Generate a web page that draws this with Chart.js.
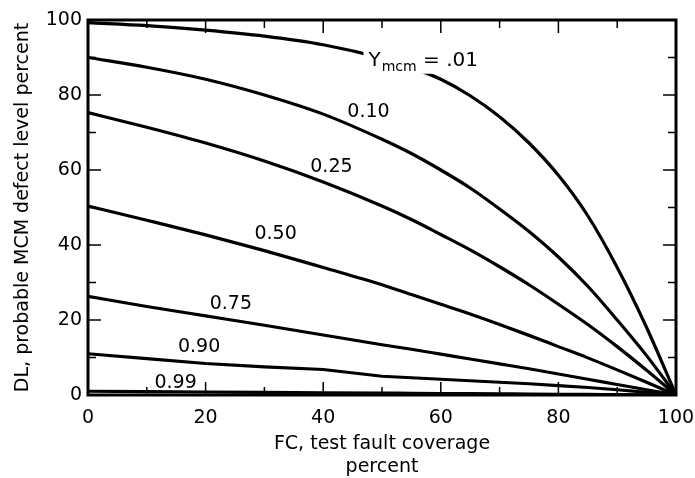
<!DOCTYPE html>
<html>
<head>
<meta charset="utf-8">
<script src="https://cdn.jsdelivr.net/npm/chart.js@4/dist/chart.umd.min.js"></script>
<style>
    html, body { margin: 0; padding: 0; background: #fff; }
    #wrap { width: 695px; height: 478px; }
</style>
</head>
<body>
<div id="wrap"><canvas id="chartLine"></canvas></div>
<script>
// FC, test fault coverage (percent)
const coverage = [0, 10, 20, 30, 40, 50, 55, 60, 65, 70, 75, 80, 85, 90, 95, 100];

// DL, probable MCM defect level (percent), one list per MCM yield
const dlY001 = [99.3, 98.5, 97.3, 95.7, 93.4, 89.8, 87.3, 84.2, 79.8, 74.2, 67.2, 58.6, 47.8, 34, 18, 0];
const dlY010 = [90, 87.4, 84.2, 80, 74.9, 68.2, 64.4, 60, 55.2, 49.6, 43.6, 36.8, 29, 20, 10.5, 0];
const dlY025 = [75.3, 71.4, 67.2, 62.4, 56.8, 50.4, 46.8, 42.8, 38.7, 34.2, 29.4, 24.2, 18.8, 12.9, 6.6, 0];
const dlY050 = [50.4, 46.6, 42.7, 38.5, 34, 29.4, 26.8, 24.2, 21.6, 18.8, 15.9, 12.9, 9.9, 6.7, 3.4, 0];
const dlY075 = [26.3, 23.6, 21.1, 18.6, 16, 13.4, 12.2, 10.9, 9.6, 8.3, 7, 5.6, 4.2, 2.8, 1.4, 0];
const dlY090 = [11, 9.7, 8.4, 7.5, 6.8, 5, 4.6, 4.2, 3.8, 3.4, 3, 2.5, 2, 1.4, 0.7, 0];
const dlY099 = [1, 0.9, 0.8, 0.7, 0.6, 0.5, 0.45, 0.4, 0.35, 0.3, 0.25, 0.2, 0.15, 0.1, 0.05, 0];

const yields = [".01", "0.10", "0.25", "0.50", "0.75", "0.90", "0.99"];
const seriesList = [dlY001, dlY010, dlY025, dlY050, dlY075, dlY090, dlY099];

// curve labels, placed in data units (FC, DL)
const curveLabels = [
    { text: "0.10", x: 47.7, y: 75.5 },
    { text: "0.25", x: 41.4, y: 60.9 },
    { text: "0.50", x: 31.9, y: 42.9 },
    { text: "0.75", x: 24.3, y: 24.3 },
    { text: "0.90", x: 18.9, y: 12.7 },
    { text: "0.99", x: 14.9, y: 3.1 },
];
const yieldLabelPos = { x: 47.7, y: 87.8 };

const FONT = "'DejaVu Sans', sans-serif";

const frameAndLabels = {
    id: "frameAndLabels",
    afterDatasetsDraw(chart) {
        const { ctx, chartArea: a, scales } = chart;
        const xs = scales.x, ys = scales.y;
        ctx.save();
        ctx.strokeStyle = "#000";
        ctx.lineCap = "butt";

        // inward ticks on all four sides
        ctx.lineWidth = 1.5;
        for (let v = 10; v < 100; v += 10) {
            const len = v % 20 === 0 ? 13 : 8;
            const px = xs.getPixelForValue(v);
            const py = ys.getPixelForValue(v);
            ctx.beginPath();
            ctx.moveTo(px, a.bottom); ctx.lineTo(px, a.bottom - len);
            ctx.moveTo(px, a.top); ctx.lineTo(px, a.top + len);
            ctx.moveTo(a.left, py); ctx.lineTo(a.left + len, py);
            ctx.moveTo(a.right, py); ctx.lineTo(a.right - len, py);
            ctx.stroke();
        }

        // frame
        ctx.lineWidth = 3;
        ctx.strokeRect(a.left, a.top, a.right - a.left, a.bottom - a.top);

        // curve labels
        ctx.fillStyle = "#000";
        ctx.font = "19px " + FONT;
        ctx.textAlign = "center";
        ctx.textBaseline = "middle";
        curveLabels.forEach((l) => {
            ctx.fillText(l.text, xs.getPixelForValue(l.x), ys.getPixelForValue(l.y));
        });

        // Y_mcm = .01, on a white patch that breaks the curve
        let x = xs.getPixelForValue(yieldLabelPos.x);
        const base = ys.getPixelForValue(yieldLabelPos.y);
        ctx.font = "20px " + FONT;
        const wY = ctx.measureText("Y").width;
        const wEq = ctx.measureText(" = " + yields[0]).width;
        ctx.font = "14px " + FONT;
        const wSub = ctx.measureText("mcm").width;
        ctx.fillStyle = "#fff";
        ctx.fillRect(x - 5, base - 17, wY + wSub + wEq + 8, 25);

        ctx.fillStyle = "#000";
        ctx.textAlign = "left";
        ctx.textBaseline = "alphabetic";
        ctx.font = "20px " + FONT;
        ctx.fillText("Y", x, base);
        x += wY + 1;
        ctx.font = "14px " + FONT;
        ctx.fillText("mcm", x, base + 5);
        x += wSub;
        ctx.font = "20px " + FONT;
        ctx.fillText(" = " + yields[0], x, base);
        ctx.restore();
    },
};

const datasets = seriesList.map((values, i) => ({
    label: "Ymcm = " + yields[i],
    data: coverage.map((fc, j) => ({ x: fc, y: values[j] })),
    borderColor: "#000",
    borderWidth: 3.2,
    pointRadius: 0,
    fill: false,
    tension: yields[i] === "0.90" ? 0 : 0.4,
    cubicInterpolationMode: yields[i] === "0.90" ? "default" : "monotone",
}));

const configLineChart = {
    type: "line",
    data: { datasets },
    options: {
        responsive: true,
        maintainAspectRatio: false,
        animation: false,
        layout: { padding: { top: 20, right: 19, left: 0, bottom: 0 } },
        plugins: {
            legend: { display: false },
            tooltip: { enabled: false },
        },
        scales: {
            x: {
                type: "linear",
                min: 0,
                max: 100,
                grid: { display: false, drawTicks: false },
                border: { display: false },
                ticks: {
                    stepSize: 20,
                    color: "#000",
                    padding: 12,
                    maxRotation: 0,
                    font: { family: FONT, size: 19 },
                },
                title: {
                    display: true,
                    text: ["FC, test fault coverage", "percent"],
                    color: "#000",
                    font: { family: FONT, size: 19 },
                    padding: { top: 0, bottom: 0 },
                },
                afterFit(scale) {
                    scale.height = 83;
                    scale.paddingLeft = 0;
                    scale.paddingRight = 0;
                },
            },
            y: {
                min: 0,
                max: 100,
                grid: { display: false, drawTicks: false },
                border: { display: false },
                ticks: {
                    stepSize: 20,
                    color: "#000",
                    padding: 6,
                    font: { family: FONT, size: 19 },
                },
                title: {
                    display: true,
                    text: "DL, probable MCM defect level percent",
                    color: "#000",
                    font: { family: FONT, size: 19 },
                    padding: { top: 12, bottom: 0 },
                },
                afterFit(scale) {
                    scale.width = 88;
                    scale.paddingTop = 0;
                    scale.paddingBottom = 0;
                },
            },
        },
    },
    plugins: [frameAndLabels],
};

new Chart(document.getElementById("chartLine"), configLineChart);
</script>
</body>
</html>
